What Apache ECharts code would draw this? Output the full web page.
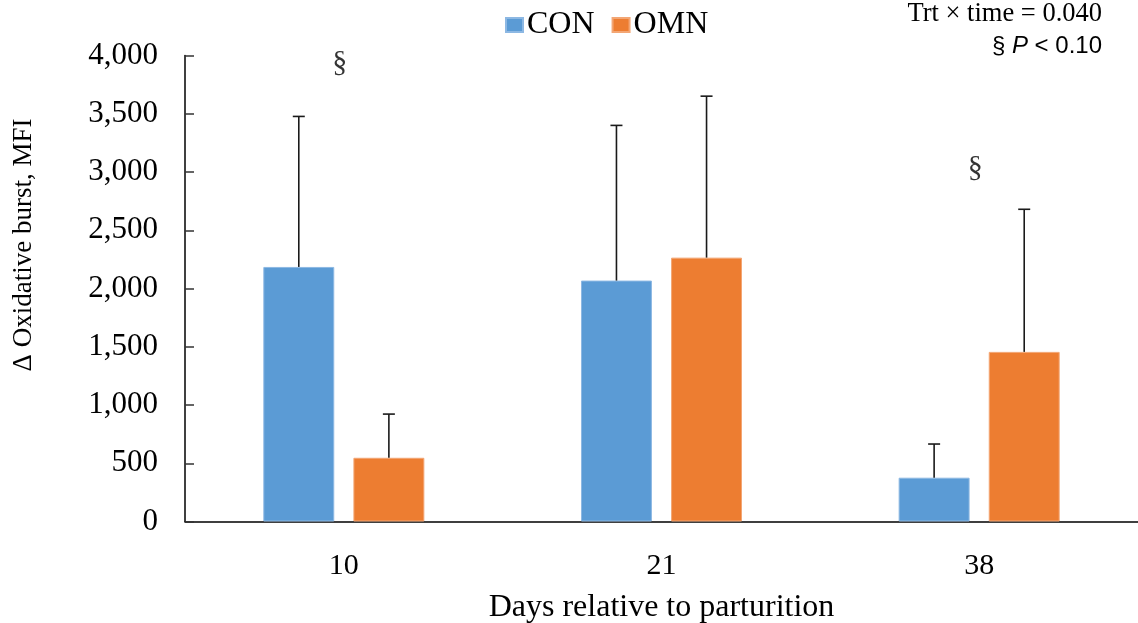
<!DOCTYPE html>
<html>
<head>
<meta charset="utf-8">
<script src="https://cdn.jsdelivr.net/npm/echarts@6/dist/echarts.min.js"></script>
<style>html,body{margin:0;padding:0;background:#fff}#c{width:1138px;height:623px}</style>
</head>
<body>
<div id="c"></div>
<script>
const categories = ['10', '21', '38'];
const conMeans = [2185, 2068, 376];
const conUpper = [3477, 3400, 665];
const omnMeans = [547, 2265, 1456];
const omnUpper = [922, 3651, 2680];
const yTicks = [0, 500, 1000, 1500, 2000, 2500, 3000, 3500, 4000];
const sectionMarks = [['10', 3935], ['38', 3030]];

const BAR_PCT = 0.2233, GAP_PCT = 0.27;
const serif = '"Liberation Serif","Times New Roman",serif';
const sans = '"Liberation Sans",Arial,sans-serif';

function errRender(sign) {
  return function (params, api) {
    const ci = api.value(0);
    const base = api.coord([ci, api.value(1)]);
    const top = api.coord([ci, api.value(2)]);
    const band = api.size([1, 0])[0];
    const bw = band * BAR_PCT;
    const cx = base[0] + sign * (bw + bw * GAP_PCT) / 2;
    const style = { stroke: '#1a1a1a', lineWidth: 1.6 };
    return {
      type: 'group',
      children: [
        { type: 'line', shape: { x1: cx, y1: base[1], x2: cx, y2: top[1] }, style: style },
        { type: 'line', shape: { x1: cx - 6, y1: top[1], x2: cx + 6, y2: top[1] }, style: style }
      ]
    };
  };
}

const chart = echarts.init(document.getElementById('c'));
chart.setOption({
  animation: false,
  backgroundColor: '#fff',
  grid: { left: 185, right: 0, top: 55.5, bottom: 101.5, containLabel: false, outerBoundsMode: 'none' },
  legend: {
    data: ['CON', 'OMN'],
    left: 500, top: 4,
    itemWidth: 17, itemHeight: 14, itemGap: 17,
    icon: 'rect',
    textStyle: { fontFamily: serif, fontSize: 32, color: '#000', padding: [0, 0, 0, -1] }
  },
  xAxis: {
    type: 'category',
    data: categories,
    axisTick: { show: false },
    axisLine: { lineStyle: { color: '#000', width: 1.5 } },
    axisLabel: { fontFamily: serif, fontSize: 30, color: '#000', margin: 30 },
    name: 'Days relative to parturition',
    nameLocation: 'middle',
    nameGap: 70,
    nameTextStyle: { fontFamily: serif, fontSize: 32, color: '#000' }
  },
  yAxis: {
    type: 'value',
    min: yTicks[0], max: yTicks[yTicks.length - 1], interval: yTicks[1] - yTicks[0],
    splitLine: { show: false },
    axisLine: { show: true, lineStyle: { color: '#000', width: 1.5 } },
    axisTick: { show: true, inside: true, length: 9, lineStyle: { color: '#333', width: 1.5 } },
    axisLabel: {
      fontFamily: serif, fontSize: 31, color: '#000', margin: 27,
      formatter: v => v.toLocaleString('en-US')
    }
  },
  series: [
    {
      name: 'CON', type: 'bar', data: conMeans,
      barWidth: (BAR_PCT * 100) + '%', barGap: (GAP_PCT * 100) + '%',
      itemStyle: { color: '#5B9BD5', borderColor: '#8DB8E3', borderWidth: 1 }
    },
    {
      name: 'OMN', type: 'bar', data: omnMeans,
      barWidth: (BAR_PCT * 100) + '%',
      itemStyle: { color: '#ED7D31', borderColor: '#F3A674', borderWidth: 1 }
    },
    {
      type: 'custom', renderItem: errRender(-1), z: 5,
      data: categories.map((c, i) => [i, conMeans[i], conUpper[i]])
    },
    {
      type: 'custom', renderItem: errRender(1), z: 5,
      data: categories.map((c, i) => [i, omnMeans[i], omnUpper[i]])
    },
    {
      type: 'scatter', symbolSize: 0, silent: true,
      data: sectionMarks,
      label: { show: true, position: 'inside', formatter: '§', fontFamily: serif, fontSize: 30, color: '#000', offset: [-4, 0] }
    }
  ],
  graphic: [
    { type: 'text', x: 24, y: 245, rotation: Math.PI / 2,
      style: { text: 'Δ Oxidative burst, MFI', fontFamily: serif, fontSize: 27, fill: '#000', align: 'center', verticalAlign: 'middle' } },
    { type: 'text', right: 36, top: 1, style: { text: 'Trt × time = 0.040', fontFamily: serif, fontSize: 26.5, fill: '#000' } },
    { type: 'text', right: 36, top: 34, style: {
      rich: { n: { fontFamily: sans, fontSize: 24, fill: '#000' },
              i: { fontFamily: sans, fontSize: 24, fontStyle: 'italic', fill: '#000' } },
      text: '{n|§ }{i|P}{n| < 0.10}' } }
  ]
});
</script>
</body>
</html>
